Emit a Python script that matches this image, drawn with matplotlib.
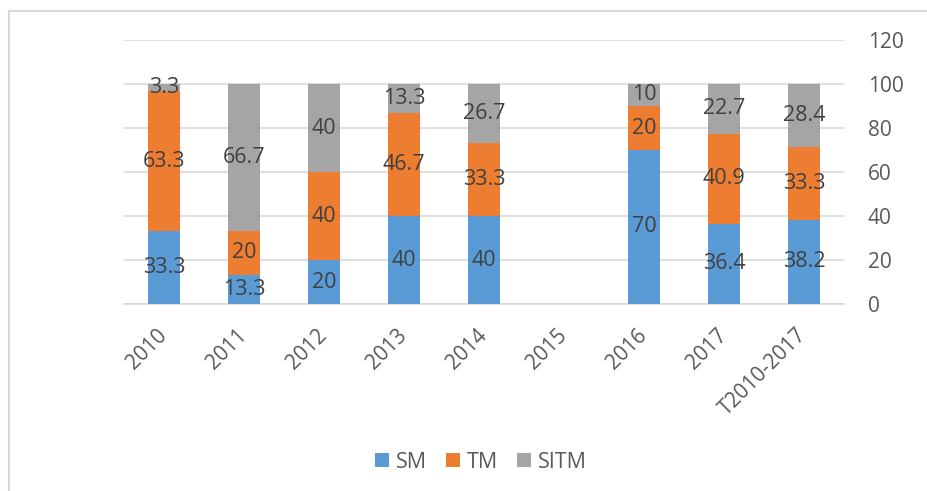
import numpy as np
import matplotlib
matplotlib.use('Agg')
import matplotlib.pyplot as plt
from matplotlib.lines import Line2D
import matplotlib.transforms as mtransforms

plt.rcParams['font.family'] = ['Open Sans', 'DejaVu Sans']

categories = ['2010', '2011', '2012', '2013', '2014', '2015', '2016', '2017', 'T2010-2017']
sm = [33.3, 13.3, 20, 40, 40, 0, 70, 36.4, 38.2]
tm = [63.3, 20, 40, 46.7, 33.3, 0, 20, 40.9, 33.3]
sitm = [3.3, 66.7, 40, 13.3, 26.7, 0, 10, 22.7, 28.4]

COLORS = {'SM': '#5B9BD5', 'TM': '#ED7D31', 'SITM': '#A5A5A5'}
TXT = '#404040'
TICK = '#595959'

fig = plt.figure(figsize=(9.28, 4.91), dpi=100)
ax = fig.add_axes([124/928, 1 - 304/491, 720/928, (304 - 40)/491])

idx = np.arange(len(categories))
width = 0.4
bottom = np.zeros(len(categories))
for name, vals in [('SM', sm), ('TM', tm), ('SITM', sitm)]:
    vals = np.array(vals, dtype=float)
    ax.bar(idx, vals, width, bottom=bottom, color=COLORS[name], label=name, zorder=3)
    for i, v in enumerate(vals):
        if v > 0:
            ax.text(idx[i], bottom[i] + v / 2, f'{v:g}', ha='center', va='center',
                    fontsize=15.5, color=TXT, zorder=4)
    bottom += vals

ax.set_xlim(-0.5, len(categories) - 0.5)
ax.set_ylim(0, 120)
ax.set_yticks(range(0, 121, 20))
ax.yaxis.tick_right()
ax.tick_params(axis='y', length=0, pad=17, labelsize=15, labelcolor=TICK)
ax.tick_params(axis='x', length=0, pad=15, labelsize=15, labelcolor=TICK)
ax.set_xticks(idx)
ax.set_xticklabels(categories, rotation=45, ha='right', va='top')
offset = mtransforms.ScaledTranslation(7/100, 0, fig.dpi_scale_trans)
for lbl in ax.get_xticklabels():
    lbl.set_transform(lbl.get_transform() + offset)

ax.grid(axis='y', color='#D9D9D9', linewidth=1.2, zorder=0)
for s in ['top', 'left', 'right']:
    ax.spines[s].set_visible(False)
ax.spines['bottom'].set_color('#D9D9D9')
ax.spines['bottom'].set_linewidth(1.2)

leg = fig.legend(loc='center', bbox_to_anchor=(481/928, 1 - 462/491), ncol=3, frameon=False,
                 fontsize=15.5, handlelength=0.65, handleheight=0.65, handletextpad=0.3,
                 columnspacing=0.9, labelcolor=TICK)

# outer chart frame (left and top edges visible)
fig.add_artist(Line2D([9.5/928, 9.5/928], [0, 1 - 10.5/491], color='#D9D9D9', linewidth=1.5))
fig.add_artist(Line2D([9.5/928, 1], [1 - 10.5/491, 1 - 10.5/491], color='#D9D9D9', linewidth=1.5))

fig.savefig('out.png', dpi=100)
